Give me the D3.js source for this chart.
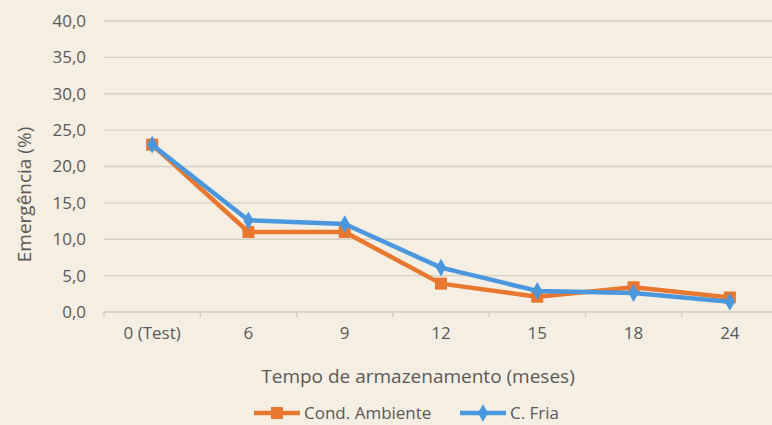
<!DOCTYPE html>
<html>
<head>
<meta charset="utf-8">
<script src="https://cdn.jsdelivr.net/npm/d3@7"></script>
<style>
  body { margin: 0; background: #f5efe3; }
  svg { display: block; font-family: "Open Sans", "Noto Sans", sans-serif; }
</style>
</head>
<body>
<svg id="chart"></svg>
<script>
var categories = ["0 (Test)", "6", "9", "12", "15", "18", "24"];
var ambiente = [23.0, 11.0, 11.0, 3.9, 2.1, 3.4, 2.0];
var fria = [23.0, 12.6, 12.1, 6.1, 2.9, 2.6, 1.4];
var yTicks = [0, 5, 10, 15, 20, 25, 30, 35, 40];
var seriesNames = ["Cond. Ambiente", "C. Fria"];

var width = 772, height = 425;
var svg = d3.select("#chart").attr("width", width).attr("height", height);

var plotLeft = 104, plotRight = 778, plotTop = 21, plotBottom = 312;

var x = d3.scaleBand().domain(categories).range([plotLeft, plotRight]);
var y = d3.scaleLinear().domain([0, 40]).range([plotBottom, plotTop]);

var fmt = function(d){ return d3.format(".1f")(d).replace(".", ","); };
var textColor = "#595959";

// gridlines
svg.append("g").selectAll("line")
	.data(yTicks.filter(function(d){ return d > 0; }))
	.enter().append("line")
	.attr("x1", plotLeft).attr("x2", plotRight)
	.attr("y1", function(d){ return y(d); }).attr("y2", function(d){ return y(d); })
	.attr("stroke", "#d6d0c4").attr("stroke-width", 1.3);

// y labels
svg.append("g").selectAll("text")
	.data(yTicks)
	.enter().append("text")
	.attr("x", 86).attr("y", function(d){ return y(d); })
	.attr("dy", "0.35em")
	.attr("text-anchor", "end")
	.attr("fill", textColor)
	.style("font-size", "17px")
	.text(fmt);

// x axis
var xAxis = svg.append("g")
	.attr("transform", "translate(0," + plotBottom + ")")
	.call(d3.axisBottom(x).tickSize(0).tickPadding(15));
xAxis.select(".domain").remove();
xAxis.selectAll("text").attr("fill", textColor).style("font-size", "17px")
	.style("font-family", "'Open Sans', 'Noto Sans', sans-serif");

svg.append("line")
	.attr("x1", plotLeft).attr("x2", plotRight)
	.attr("y1", plotBottom).attr("y2", plotBottom)
	.attr("stroke", "#d0cabe").attr("stroke-width", 1.5);

var boundaries = categories.map(function(c){ return x(c); });
svg.append("g").selectAll("line")
	.data(boundaries)
	.enter().append("line")
	.attr("x1", function(d){ return d; }).attr("x2", function(d){ return d; })
	.attr("y1", plotBottom).attr("y2", plotBottom + 5)
	.attr("stroke", "#d0cabe").attr("stroke-width", 1.3);

// axis titles
svg.append("text")
	.attr("x", 418).attr("y", 383)
	.attr("text-anchor", "middle")
	.attr("fill", textColor)
	.style("font-size", "19px")
	.text("Tempo de armazenamento (meses)");

svg.append("text")
	.attr("transform", "translate(31," + ((plotTop + plotBottom) / 2 + 28) + ") rotate(-90)")
	.attr("text-anchor", "middle")
	.attr("fill", textColor)
	.style("font-size", "19px")
	.text("Emergência (%)");

var cx = function(i){ return x(categories[i]) + x.bandwidth() / 2; };

var line = d3.line()
	.x(function(d, i){ return cx(i); })
	.y(function(d){ return y(d); });

var orange = "#e8782f", blue = "#4b97dd";

// orange series
svg.append("path").datum(ambiente)
	.attr("d", line).attr("fill", "none")
	.attr("stroke", orange).attr("stroke-width", 4.5).attr("stroke-linejoin", "round");
svg.append("g").selectAll("rect")
	.data(ambiente).enter().append("rect")
	.attr("x", function(d, i){ return cx(i) - 6; })
	.attr("y", function(d){ return y(d) - 6; })
	.attr("width", 12).attr("height", 12)
	.attr("fill", orange);

// blue series
svg.append("path").datum(fria)
	.attr("d", line).attr("fill", "none")
	.attr("stroke", blue).attr("stroke-width", 4.5).attr("stroke-linejoin", "round");
var diamond = d3.symbol().type(d3.symbolDiamond).size(90);
svg.append("g").selectAll("path")
	.data(fria).enter().append("path")
	.attr("d", diamond)
	.attr("transform", function(d, i){ return "translate(" + cx(i) + "," + y(d) + ")"; })
	.attr("fill", blue);

// legend
var leg = svg.append("g");
var legItems = [
	{ name: seriesNames[0], color: orange, x0: 254, shape: "square" },
	{ name: seriesNames[1], color: blue, x0: 460, shape: "diamond" }
];
legItems.forEach(function(it){
	var ly = 413;
	leg.append("line")
		.attr("x1", it.x0).attr("x2", it.x0 + 46)
		.attr("y1", ly).attr("y2", ly)
		.attr("stroke", it.color).attr("stroke-width", 4.5);
	if (it.shape === "square") {
		leg.append("rect").attr("x", it.x0 + 17).attr("y", ly - 6)
			.attr("width", 12).attr("height", 12).attr("fill", it.color);
	} else {
		leg.append("path").attr("d", diamond)
			.attr("transform", "translate(" + (it.x0 + 23) + "," + ly + ")")
			.attr("fill", it.color);
	}
	leg.append("text")
		.attr("x", it.x0 + 50).attr("y", ly).attr("dy", "0.35em")
		.attr("fill", textColor).style("font-size", "17px")
		.text(it.name);
});
</script>
</body>
</html>
